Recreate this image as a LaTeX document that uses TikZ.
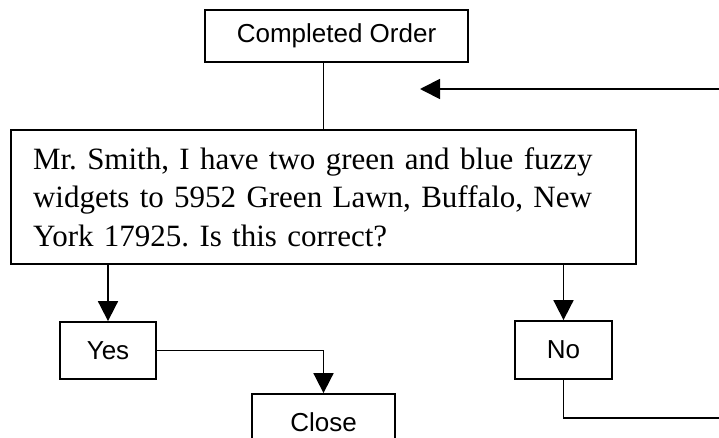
\documentclass[tikz,border=0pt]{standalone}
\usepackage{fontspec}
\setmainfont{Liberation Serif}
\setsansfont{Liberation Sans}
\usetikzlibrary{positioning, calc, arrows.meta}

\begin{document}
\begin{tikzpicture}[x=1pt, y=-1pt, >={Triangle[length=20pt,width=20pt]},
    flowbox/.style={draw, line width=1.8pt, inner sep=0pt, font=\sffamily\fontsize{26}{30}\selectfont},
    flowline/.style={line width=1.8pt}]
    \useasboundingbox (0,0) rectangle (719,438);
    \clip (0,0) rectangle (719,438);

    % Boxes
    \node[flowbox, minimum width=263pt, minimum height=52pt] (order) at (336.5,36) {Completed Order};
    \node[flowbox, minimum width=625pt, minimum height=134pt, text width=581pt, align=left,
          font=\rmfamily\fontsize{31}{38.5}\selectfont\frenchspacing] (check) at (323.5,197)
         {Mr. Smith, I have two green and blue fuzzy\\
          widgets to 5952 Green Lawn, Buffalo, New\\
          York 17925. Is this correct?};
    \node[flowbox, minimum width=96pt, minimum height=57pt] (yes) at (108,350.5) {Yes};
    \node[flowbox, minimum width=97pt, minimum height=58pt] (no) at (563.5,350) {No};
    \node[flowbox, minimum width=143pt, minimum height=56pt] (close) at (323.5,422) {Close};

    % Loop ends at the right edge
    \coordinate (noexit) at (719,418);
    \coordinate (loopin) at (719,89);
    \coordinate (looptip) at (420,89);

    % Connectors
    \draw[flowline] (check.north) -- (check.north |- order.south);
    \draw[flowline, ->] (check.south -| yes) -- (yes.north);
    \draw[flowline, ->] (check.south -| no) -- (no.north);
    \draw[flowline, ->] (yes.east) -| (close.north);
    \draw[flowline] (no.south) |- (noexit);
    \draw[flowline, ->] (loopin) -- (looptip);
\end{tikzpicture}
\end{document}
